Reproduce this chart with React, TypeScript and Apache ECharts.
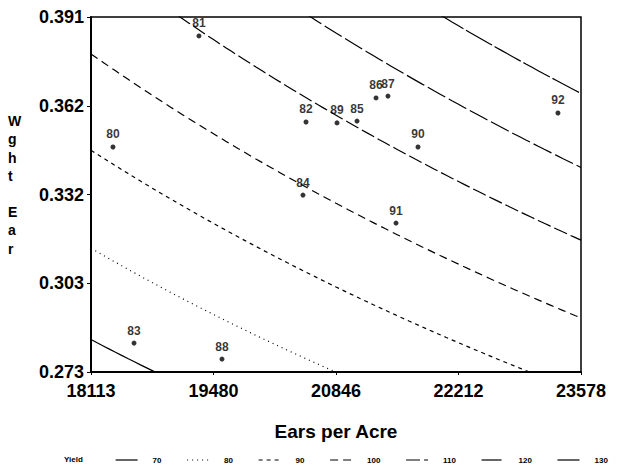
import React, { useEffect, useRef } from "react";
import * as echarts from "echarts";

const years = ["80", "81", "82", "83", "84", "85", "86", "87", "88", "89", "90", "91", "92"];
const earsPerAcre = [18358, 19317, 20511, 18593, 20477, 21080, 21292, 21425, 19574, 20857, 21760, 21515, 23321];
const weightPerEar = [0.3478, 0.3847, 0.3561, 0.2826, 0.3318, 0.3564, 0.3641, 0.3647, 0.2773, 0.3558, 0.3478, 0.3225, 0.3591];

const yieldLevels = ["70", "80", "90", "100", "110", "120", "130"];
// ears x weight product along each yield contour
const contourProducts = [5140, 5690, 6280, 6860, 7470, 8040, 8620];
const contourDash: (number[] | "solid")[] = ["solid", [1, 4], [4, 4], [8, 5], [14, 4], [20, 4], [30, 3]];

const xTickValues = [18113, 19479.25, 20845.5, 22211.75, 23578];
const xTickLabels = ["18113", "19480", "20846", "22212", "23578"];
const yTickValues = [0.273, 0.3025, 0.332, 0.3615, 0.391];
const yTickLabels = ["0.273", "0.303", "0.332", "0.362", "0.391"];

const FONT = "Liberation Sans";

function nearestLabel(v: number, vals: number[], labels: string[]) {
  let best = 0;
  for (let i = 1; i < vals.length; i++) {
    if (Math.abs(vals[i] - v) < Math.abs(vals[best] - v)) best = i;
  }
  return labels[best];
}

export default function App() {
  const ref = useRef<HTMLDivElement>(null);
  useEffect(() => {
    if (!ref.current) return;
    const chart = echarts.init(ref.current, undefined, { renderer: "svg" });
    const xMin = xTickValues[0];
    const xMax = xTickValues[xTickValues.length - 1];
    const steps = 80;
    const contourSeries = contourProducts.map((p, i) => {
      const pts: number[][] = [];
      for (let k = 0; k <= steps; k++) {
        const x = xMin + ((xMax - xMin) * k) / steps;
        pts.push([x, p / x]);
      }
      const dash = contourDash[i];
      return {
        name: yieldLevels[i],
        type: "line",
        data: pts,
        symbol: "none",
        clip: true,
        silent: true,
        color: "#000",
        itemStyle: { color: "#000" },
        lineStyle: { color: "#000", width: 1.2, type: dash },
        z: 2,
      };
    });
    chart.setOption({
      animation: false,
      backgroundColor: "#fff",
      color: ["#000"],
      grid: {
        left: 91,
        right: 43,
        top: 17,
        bottom: 94,
        show: true,
        borderColor: "#000",
        borderWidth: 1.5,
      },
      xAxis: {
        type: "value",
        min: xMin,
        max: xMax,
        name: "Ears per Acre",
        nameLocation: "middle",
        nameGap: 50,
        nameTextStyle: { fontFamily: FONT, fontWeight: "bold", fontSize: 19, color: "#000" },
        axisLine: { show: true, lineStyle: { color: "#000", width: 2 } },
        axisTick: { show: true, length: 3, customValues: xTickValues, lineStyle: { color: "#000" } },
        splitLine: { show: false },
        axisLabel: {
          customValues: xTickValues,
          margin: 10,
          fontFamily: FONT,
          fontWeight: "bold",
          fontSize: 18,
          color: "#000",
          formatter: (v: number) => nearestLabel(v, xTickValues, xTickLabels),
        },
      },
      yAxis: {
        type: "value",
        min: yTickValues[0],
        max: yTickValues[yTickValues.length - 1],
        axisLine: { show: true, lineStyle: { color: "#000", width: 2 } },
        axisTick: { show: true, length: 4, customValues: yTickValues, lineStyle: { color: "#000" } },
        splitLine: { show: false },
        axisLabel: {
          customValues: yTickValues,
          margin: 7,
          fontFamily: FONT,
          fontWeight: "bold",
          fontSize: 18,
          color: "#000",
          formatter: (v: number) => nearestLabel(v, yTickValues, yTickLabels),
        },
      },
      legend: {
        data: yieldLevels,
        left: 110,
        top: 451,
        itemWidth: 22,
        itemHeight: 8,
        itemGap: 25,
        itemStyle: { opacity: 0 },
        lineStyle: { color: "#000", width: 1.2 },
        textStyle: { fontFamily: FONT, fontWeight: "bold", fontSize: 8, color: "#000", padding: [0, 0, 0, 10] },
        selectedMode: false,
      },
      graphic: [
        {
          type: "text",
          left: 8,
          top: 112,
          style: {
            text: "W\ng\nh\nt\n\nE\na\nr",
            fontFamily: FONT,
            fontWeight: "bold",
            fontSize: 14,
            lineHeight: 18.2,
            fill: "#000",
            align: "center",
          },
        },
        {
          type: "text",
          left: 64,
          top: 455,
          style: {
            text: "Yield",
            fontFamily: FONT,
            fontWeight: "bold",
            fontSize: 8,
            fill: "#000",
          },
        },
      ],
      series: [
        ...contourSeries,
        {
          name: "points",
          type: "scatter",
          data: earsPerAcre.map((x, i) => [x, weightPerEar[i], years[i]]),
          symbol: "circle",
          symbolSize: 5,
          itemStyle: { color: "#000" },
          label: {
            show: true,
            position: "top",
            distance: 4,
            formatter: (p: any) => p.data[2],
            fontFamily: FONT,
            fontWeight: "bold",
            fontSize: 12,
            color: "#000",
          },
          z: 5,
        },
      ],
    });
    return () => chart.dispose();
  }, []);
  return (
    <div
      ref={ref}
      style={{ position: "absolute", left: 0, top: 0, width: 624, height: 466 }}
    />
  );
}
